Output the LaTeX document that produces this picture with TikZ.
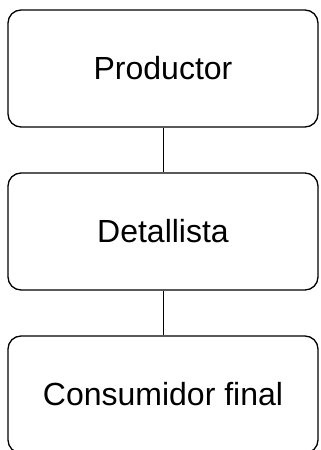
\documentclass[tikz,border=0pt]{standalone}
\usepackage{fontspec}
\setmainfont{Liberation Sans}
\usepackage{tikz}

\begin{document}
\begin{tikzpicture}
        [x=1pt,y=1pt,line width=1.3pt,every node/.style={draw,rounded corners=13pt,minimum width=310pt,minimum height=117pt,inner sep=0pt,font=\fontsize{32}{38}\selectfont}]
        \useasboundingbox (0,0) rectangle (321,-450);
        \node (prod) at (163,-68.5) {Productor};
        \node (det) at (163,-231.5) {Detallista};
        \node (cons) at (163,-394.5) {Consumidor final};

        \path [line width=1pt] (prod) edge (det);
        \path [line width=1pt] (det) edge (cons);

    \end{tikzpicture}
\end{document}
